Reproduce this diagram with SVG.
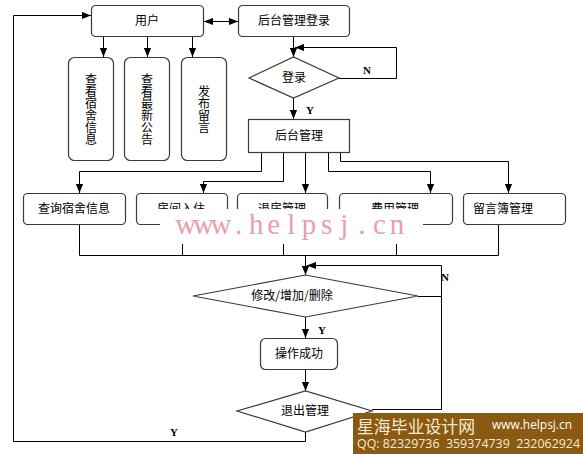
<svg xmlns="http://www.w3.org/2000/svg" width="583" height="454" viewBox="0 0 583 454">
<style>
.box{fill:#fff;stroke:#3a3a3a;stroke-width:1.2}
.ln{fill:none;stroke:#000;stroke-width:1}
.t{font-family:"Noto Sans CJK SC","Liberation Sans",sans-serif;font-size:12px;fill:#000;text-anchor:middle}
.v{font-family:"Noto Sans CJK SC","Liberation Sans",sans-serif;font-size:12px;fill:#000;writing-mode:vertical-rl}
.lb{font-family:"Liberation Serif",serif;font-size:11px;font-weight:bold;fill:#000;text-anchor:middle}
</style>
<defs>
<marker id="ah" viewBox="0 0 10 8" refX="10" refY="4" markerWidth="9" markerHeight="8" markerUnits="userSpaceOnUse" orient="auto-start-reverse">
<path d="M0,0 L10,4 L0,8 z" fill="#000"/>
</marker>
<clipPath id="cut"><rect x="0" y="0" width="583" height="209"/></clipPath>
</defs>
<rect width="583" height="454" fill="#fff"/>

<g id="connectors">
<path class="ln" d="M305.5,432 V441.5 H13.5 V15.5 H91" marker-end="url(#ah)"/>
<path class="ln" d="M204,21.5 H238" marker-start="url(#ah)" marker-end="url(#ah)"/>
<path class="ln" d="M103.5,36 V57" marker-end="url(#ah)"/>
<path class="ln" d="M147.5,36 V57" marker-end="url(#ah)"/>
<path class="ln" d="M192.5,36 V57" marker-end="url(#ah)"/>
<path class="ln" d="M293.5,36 V57" marker-end="url(#ah)"/>
<path class="ln" d="M339,78.5 H396.5 V47.5 H295" marker-end="url(#ah)"/>
<path class="ln" d="M293.5,98 V119" marker-end="url(#ah)"/>
<path class="ln" d="M261.5,152 V171.5 H79.5 V193" marker-end="url(#ah)"/>
<path class="ln" d="M283.5,152 V181.5 H203.5 V193" marker-end="url(#ah)"/>
<path class="ln" d="M305.5,152 V193" marker-end="url(#ah)"/>
<path class="ln" d="M328.5,152 V171.5 H430.5 V193" marker-end="url(#ah)"/>
<path class="ln" d="M340.5,152 V161.5 H508.5 V193" marker-end="url(#ah)"/>
<path class="ln" d="M79.5,224 V255.5 H498.5 V224"/>
<path class="ln" d="M182.5,224 V255.5"/>
<path class="ln" d="M283.5,224 V255.5"/>
<path class="ln" d="M396.5,224 V255.5"/>
<path class="ln" d="M305.5,255.5 V275" marker-end="url(#ah)"/>
<path class="ln" d="M418,296.5 H441.5"/>
<path class="ln" d="M372,409.5 H441.5 V265.5 H307" marker-end="url(#ah)"/>
<path class="ln" d="M305.5,317 V338" marker-end="url(#ah)"/>
<path class="ln" d="M305.5,369 V391" marker-end="url(#ah)"/>
<text class="lb" x="367" y="74">N</text>
<text class="lb" x="310" y="114">Y</text>
<text class="lb" x="445" y="281">N</text>
<text class="lb" x="322" y="334">Y</text>
<text class="lb" x="174" y="436">Y</text>
</g>

<g id="user"><rect class="box" x="91.5" y="5.5" width="112" height="31" rx="4"/><text class="t" x="147" y="25">用户</text></g>
<g id="login"><rect class="box" x="238.5" y="5.5" width="111" height="31" rx="4"/><text class="t" x="294" y="25">后台管理登录</text></g>
<g id="view-info"><rect class="box" x="68.5" y="57.5" width="45" height="103" rx="6"/><text class="v" x="91" y="73">查看宿舍信息</text></g>
<g id="view-notice"><rect class="box" x="124.5" y="57.5" width="45" height="103" rx="6"/><text class="v" x="147" y="73">查看最新公告</text></g>
<g id="post-msg"><rect class="box" x="181.5" y="57.5" width="45" height="103" rx="6"/><text class="v" x="204" y="85">发布留言</text></g>
<g id="login-check"><polygon class="box" points="249,78 293.5,57 339,78 293.5,98"/><text class="t" x="294" y="82">登录</text></g>
<g id="admin"><rect class="box" x="248.5" y="119.5" width="101" height="33"/><text class="t" x="299" y="140">后台管理</text></g>
<g id="query"><rect class="box" x="23.5" y="193.5" width="102" height="31" rx="4"/><text class="t" x="74" y="213">查询宿舍信息</text></g>
<g id="checkin"><rect class="box" x="136.5" y="193.5" width="91" height="31" rx="4"/><text class="t" x="181" y="213" clip-path="url(#cut)">房间入住</text></g>
<g id="checkout"><rect class="box" x="237.5" y="193.5" width="90" height="31" rx="4"/><text class="t" x="282" y="213" clip-path="url(#cut)">退房管理</text></g>
<g id="fees"><rect class="box" x="339.5" y="193.5" width="113" height="31" rx="4"/><text class="t" x="395" y="213" clip-path="url(#cut)">费用管理</text></g>
<g id="guestbook"><rect class="box" x="463.5" y="193.5" width="102" height="31" rx="4"/><text class="t" x="503" y="213">留言簿管理</text></g>
<g id="modify"><polygon class="box" points="193,296 305.5,275 418,296 305.5,317"/><text class="t" x="292" y="300">修改/增加/删除</text></g>
<g id="success"><rect class="box" x="260.5" y="338.5" width="77" height="31" rx="5"/><text class="t" x="299" y="358">操作成功</text></g>
<g id="exit"><polygon class="box" points="237,411 305.5,391 372,411 305.5,432"/><text class="t" x="305" y="415">退出管理</text></g>

<g id="watermark">
<rect x="160" y="209" width="263" height="35" fill="#fff"/>
<text x="185.8 203.4 221 238.6 256.2 273.8 291.4 309 326.6 344.2 361.8 379.4 397" y="234" font-family="Liberation Serif, serif" font-size="29" fill="#e9a0a8" text-anchor="middle">www.helpsj.cn</text>
</g>
<g id="banner">
<rect x="353" y="413" width="230" height="41" fill="#8a5a12"/>
<text x="357" y="433" font-family="Noto Sans CJK SC, sans-serif" font-size="17" fill="#f6ecd2" textLength="118" lengthAdjust="spacingAndGlyphs">星海毕业设计网</text>
<text x="492" y="429" font-family="Open Sans, Liberation Sans, sans-serif" font-size="12" fill="#fff" textLength="80" lengthAdjust="spacingAndGlyphs">www.helpsj.cn</text>
<text x="357" y="448" font-family="Open Sans, Liberation Sans, sans-serif" font-size="12" fill="#f6ecd2" textLength="223" lengthAdjust="spacingAndGlyphs" xml:space="preserve">QQ: 82329736  359374739  232062924</text>
</g>
</svg>
